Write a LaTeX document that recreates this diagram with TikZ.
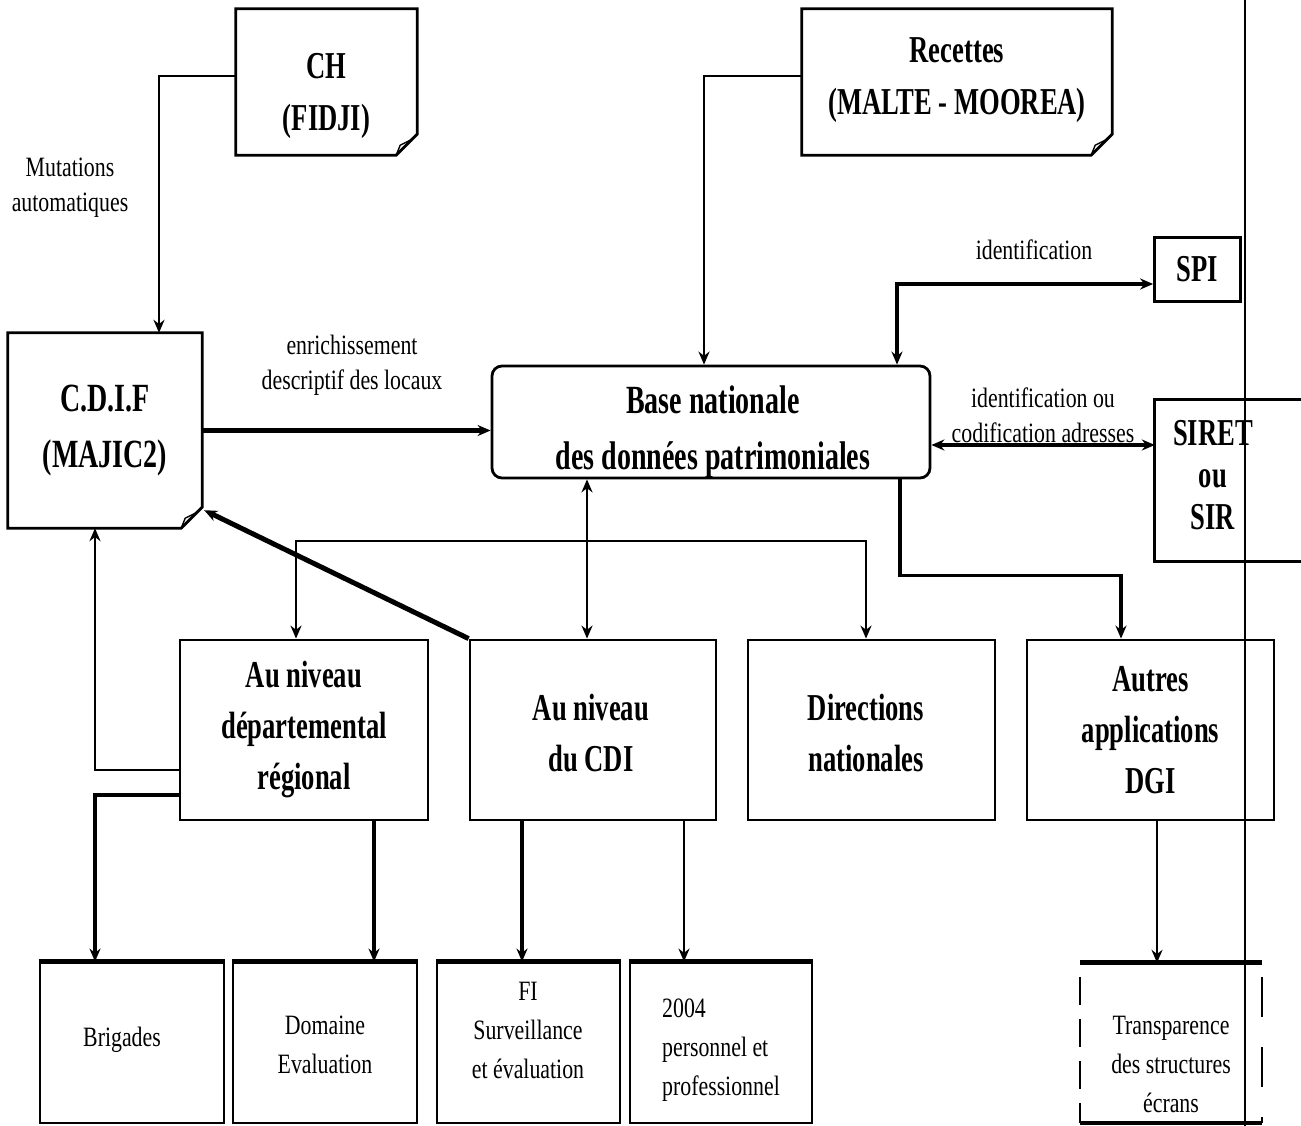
\documentclass[tikz,border=0pt]{standalone}
\usepackage{fontspec}
\setmainfont{Liberation Serif}
\newfontfamily\cf{Liberation Serif}[FakeStretch=0.78]
\newfontfamily\cfc{Liberation Serif}[FakeStretch=0.7]
\usetikzlibrary{arrows.meta,calc}
\tikzset{
  box/.style={draw, line width=2.8pt, inner sep=0pt, align=center},
  nobox/.style={inner sep=0pt, align=center},
  bigb/.style={font=\cfc\bfseries\fontsize{38}{52}\selectfont},
  cdb/.style={font=\cfc\bfseries\fontsize{40}{56}\selectfont},
  midb/.style={font=\cfc\bfseries\fontsize{38}{51}\selectfont},
  sirb/.style={font=\cfc\bfseries\fontsize{38}{42}\selectfont},
  lab/.style={inner sep=0pt, align=center, font=\cf\fontsize{28}{35}\selectfont},
  btxt/.style={inner sep=0pt, align=center, font=\cf\fontsize{28}{39}\selectfont},
  conn/.style={line width=2.6pt},
  medc/.style={line width=3.4pt},
  thickc/.style={line width=4.8pt},
  note/.style={line width=2.8pt},
  fold/.style={line width=1.4pt},
}
\begin{document}
\begin{tikzpicture}[x=1pt,y=-1pt,>={Stealth[length=13pt,width=11pt]}]
\fill[white] (0,0) rectangle (1301,1126);
\useasboundingbox (0,0) rectangle (1301,1126);

% top note boxes
\node[nobox,minimum width=181pt,minimum height=146pt] (ch) at (326.5,82) {};
\node[nobox,bigb] (chT) at (326.5,96) {CH\\(FIDJI)};
\node[nobox,minimum width=310pt,minimum height=146pt] (rec) at (957,82) {};
\node[nobox,bigb] (recT) at (957,80) {Recettes\\(MALTE - MOOREA)};
\node[nobox,cdb,minimum width=194pt,minimum height=195pt] (cdif) at (105,430.5) {C.D.I.F\\(MAJIC2)};

\foreach \n in {ch,rec,cdif}{
  \draw[note] (\n.north west) -- (\n.north east) -- ([yshift=21pt]\n.south east)
     -- ([xshift=-21pt]\n.south east) -- (\n.south west) -- cycle;
  \draw[fold] ([xshift=-21pt]\n.south east) -- ([xshift=-17pt,yshift=10pt]\n.south east)
     -- ([xshift=-7pt,yshift=15pt]\n.south east) -- ([yshift=21pt]\n.south east);
}

% base
\node[box,rounded corners=10pt,minimum width=438pt,minimum height=112pt] (base) at (711,422) {};
\node[nobox,cdb] (baseT) at (713,432) {Base nationale\\des données patrimoniales};

% SPI and SIRET
\node[box,bigb,minimum width=86pt,minimum height=64pt] (spi) at (1197.5,269.5) {SPI};
\node[nobox,minimum width=146pt,minimum height=161pt] (siret) at (1228,480.5) {};
\draw[note] (siret.north east) -- (siret.north west) -- (siret.south west) -- (siret.south east);
\node[nobox,sirb] (siretT) at (1213,475) {SIRET\\ou\\SIR};

% middle row
\node[box,midb,minimum width=248pt,minimum height=180pt] (dept) at (304,730) {Au niveau\\départemental\\régional};
\node[box,minimum width=246pt,minimum height=180pt] (cdi) at (593,730) {};
\node[nobox,midb] (cdiT) at (591,733) {Au niveau\\du CDI};
\node[box,minimum width=247pt,minimum height=180pt] (dir) at (871.5,730) {};
\node[nobox,midb] (dirT) at (866,733) {Directions\\nationales};
\node[box,midb,minimum width=247pt,minimum height=180pt] (autres) at (1150.5,730) {Autres\\applications\\DGI};

% bottom row
\node[box,minimum width=184pt,minimum height=160pt] (brig) at (132,1043) {};
\node[box,minimum width=184pt,minimum height=160pt] (dom) at (325,1043) {};
\node[box,minimum width=183pt,minimum height=160pt] (fi) at (528.5,1043) {};
\node[box,minimum width=182pt,minimum height=160pt] (p2004) at (721,1043) {};
\node[nobox,minimum width=182pt,minimum height=160pt] (trans) at (1171,1043) {};
\foreach \n in {brig,dom,fi,p2004}{
  \draw[line width=5pt] (\n.north west) -- (\n.north east);
}
\draw[line width=5pt] (trans.north west) -- (trans.north east);
\draw[line width=4pt] (trans.south west) -- (trans.south east);
\draw[line width=2pt,dash pattern=on 28pt off 14pt] ([yshift=-14pt]trans.north west) -- (trans.south west);
\draw[line width=2pt,dash pattern=on 40pt off 30pt] ([yshift=-14pt]trans.north east) -- (trans.south east);

\node[btxt] (brigT) at (122,1040) {Brigades};
\node[btxt] (domT) at (325,1045) {Domaine\\Evaluation};
\node[btxt] (fiT) at (528,1030) {FI\\Surveillance\\et évaluation};
\node[btxt,align=left] (p2T) at (721,1050) {2004\\personnel et\\professionnel};
\node[btxt] (trT) at (1171,1064) {Transparence\\des structures\\écrans};

% labels
\node[lab] (mut) at (70,188) {Mutations\\automatiques};
\node[lab] (enr) at (352,365) {enrichissement\\descriptif des locaux};
\node[lab] (idf) at (1034,250) {identification};
\node[lab] (idc) at (1043,415) {identification ou\\codification adresses};

% connectors
\draw[conn,->] ([yshift=6pt]ch.west) -| ([xshift=54pt]cdif.north);
\draw[conn,->] ([yshift=6pt]rec.west) -| ([xshift=-7pt]base.north);
\draw[thickc,->] (cdif.east) -- (base.west |- cdif.east);
\draw[thickc,<->] ([xshift=186pt]base.north) |- ([yshift=-14.5pt]spi.west);
\coordinate (bs) at ([yshift=-23pt]base.east);
\draw[medc,<->] (bs) -- (bs -| siret.west);
\coordinate (bv) at ([xshift=-124pt]base.south);
\draw[conn,<->] (bv) -- (bv |- cdi.north);
\coordinate (jn) at (bv |- 0,541);
\draw[conn,->] (jn) -| ([xshift=-8pt]dept.north);
\draw[conn,->] (jn) -| ([xshift=-5.5pt]dir.north);
\draw[medc,->] ([xshift=189pt]base.south) -- ++(0,96) -| ([xshift=-29.5pt]autres.north);
\draw[line width=5pt,->] (cdi.north west) -- ([xshift=2pt,yshift=18pt]cdif.south east);
\draw[conn,->] ([yshift=-40pt]dept.west) -| ([xshift=-10pt]cdif.south);
\draw[medc,->] ([yshift=-65pt]dept.west) -| ([xshift=-37pt]brig.north);
\coordinate (d1) at ([xshift=70pt]dept.south);
\draw[thickc,->] (d1) -- (d1 |- dom.north);
\coordinate (c1) at ([xshift=-71pt]cdi.south);
\draw[thickc,->] (c1) -- (c1 |- fi.north);
\coordinate (c2) at ([xshift=91pt]cdi.south);
\draw[conn,->] (c2) -- (c2 |- p2004.north);
\coordinate (a1) at ([xshift=6.5pt]autres.south);
\draw[conn,->] (a1) -- (a1 |- trans.north);

% scan edge line
\draw[line width=2pt] (1245,0) -- (1245,1126);
\end{tikzpicture}
\end{document}
